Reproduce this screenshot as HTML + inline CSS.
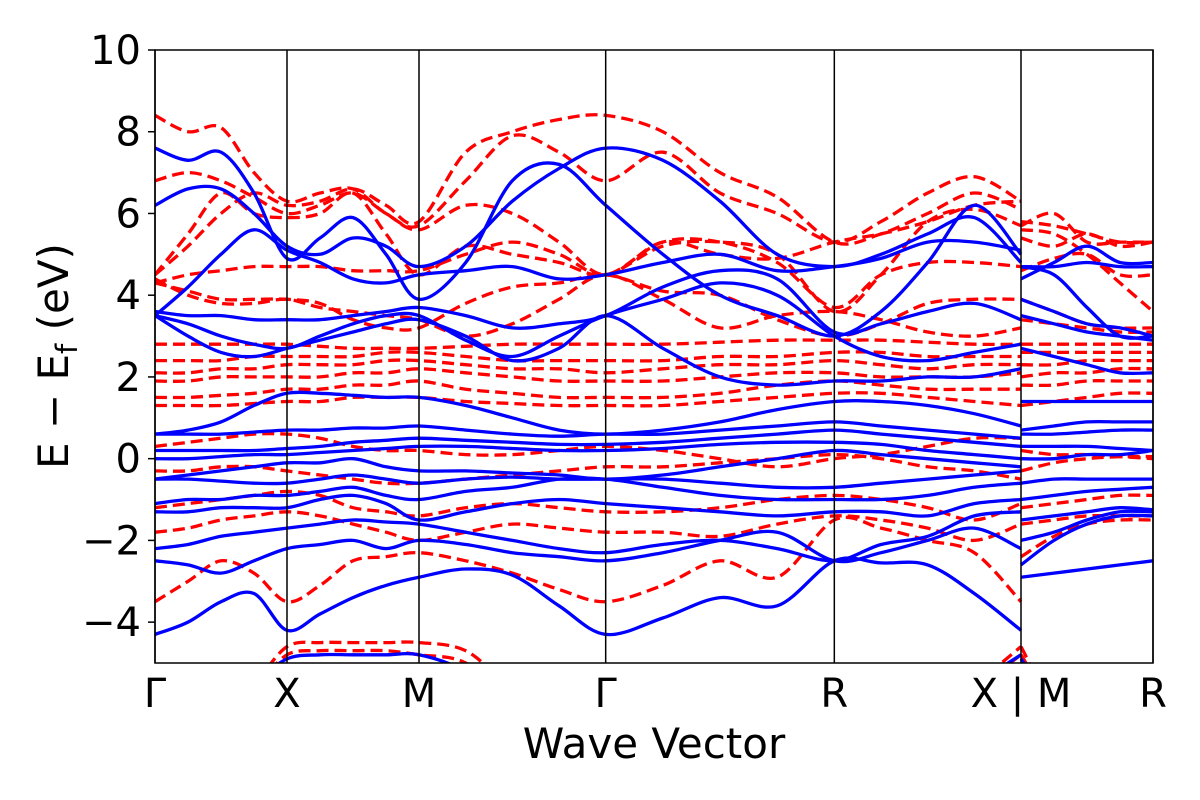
<!DOCTYPE html>
<html><head><meta charset="utf-8"><style>
html,body{margin:0;padding:0;background:#fff;width:1200px;height:800px;overflow:hidden}
svg text{font-family:"DejaVu Sans","Liberation Sans",sans-serif;fill:#000}
</style></head><body>
<svg id="chart" width="1200" height="800" viewBox="0 0 1200 800" xmlns="http://www.w3.org/2000/svg">
<defs><clipPath id="clip"><rect x="155" y="50" width="998" height="613"/></clipPath></defs>
<g id="bands" clip-path="url(#clip)"></g>
<g id="axes"></g>
</svg>
<script>
const segLabels = ["Γ","X","M","Γ","R","X"];
const segLengths = [0.5,0.5,0.7071,0.8660,0.7071];
const mrLength = 0.5;
const yTicks = [10,8,6,4,2,0,-2,-4];
const xTickLabels = ["Γ","X","M","Γ","R","X | M","R"];
const blueMain = [
[-4.3,-4.0,-3.5,-3.3,-4.2,-3.8,-3.4,-3.1,-2.9,-2.7,-2.85,-3.6,-4.3,-3.9,-3.4,-3.6,-2.5,-2.55,-2.6,-3.3,-4.2],
[-2.5,-2.6,-2.8,-2.5,-2.2,-2.1,-2.0,-2.2,-2.0,-2.1,-2.3,-2.4,-2.5,-2.3,-2.0,-1.8,-2.5,-2.3,-2.0,-1.7,-2.2],
[-2.2,-2.1,-1.9,-1.8,-1.7,-1.6,-1.5,-1.55,-1.6,-1.8,-2.0,-2.2,-2.3,-2.1,-2.0,-2.2,-2.5,-2.1,-1.9,-1.4,-1.3],
[-1.3,-1.3,-1.2,-1.2,-1.2,-1.0,-0.9,-1.1,-1.5,-1.3,-1.1,-1.0,-1.1,-1.2,-1.3,-1.4,-1.3,-1.3,-1.4,-1.1,-1.0],
[-1.1,-1.0,-1.0,-0.9,-0.9,-0.8,-0.7,-0.9,-1.0,-0.8,-0.7,-0.5,-0.5,-0.7,-0.9,-1.0,-1.0,-1.0,-0.9,-0.7,-0.6],
[-0.5,-0.5,-0.55,-0.6,-0.6,-0.5,-0.4,-0.5,-0.6,-0.5,-0.45,-0.5,-0.5,-0.5,-0.6,-0.7,-0.7,-0.6,-0.5,-0.4,-0.3],
[-0.5,-0.4,-0.3,-0.2,-0.1,-0.1,0.0,-0.2,-0.3,-0.3,-0.35,-0.4,-0.5,-0.4,-0.2,0.0,0.2,0.1,0.0,-0.1,-0.2],
[0.0,0.0,0.05,0.1,0.1,0.15,0.2,0.25,0.3,0.3,0.25,0.2,0.2,0.25,0.35,0.4,0.4,0.35,0.2,0.1,0.0],
[0.2,0.2,0.2,0.2,0.25,0.3,0.4,0.45,0.5,0.45,0.4,0.35,0.35,0.4,0.5,0.6,0.7,0.6,0.5,0.4,0.3],
[0.6,0.6,0.6,0.65,0.7,0.7,0.75,0.75,0.8,0.7,0.6,0.55,0.6,0.6,0.7,0.8,0.9,0.8,0.7,0.6,0.5],
[0.6,0.7,0.9,1.3,1.6,1.6,1.55,1.5,1.5,1.3,1.0,0.7,0.6,0.7,0.9,1.2,1.4,1.4,1.3,1.1,0.8],
[3.5,3.0,2.6,2.5,2.7,2.9,3.1,3.3,3.4,3.0,2.4,2.7,3.5,2.7,2.0,1.8,1.9,1.9,2.0,2.0,2.2],
[3.5,3.3,3.0,2.8,2.7,3.0,3.3,3.5,3.5,2.9,2.5,3.0,3.5,3.9,4.3,4.0,3.0,2.5,2.4,2.6,2.8],
[3.6,3.5,3.5,3.4,3.4,3.4,3.5,3.6,3.7,3.5,3.2,3.3,3.5,4.2,4.6,4.4,3.1,3.3,3.6,3.8,3.4],
[3.5,4.2,5.0,5.6,5.1,4.8,4.4,4.3,4.5,4.6,4.7,4.4,4.5,4.8,5.0,4.6,4.7,4.9,5.3,5.3,5.1],
[6.2,6.6,6.6,6.0,5.2,5.0,5.4,5.2,4.7,5.2,6.3,7.1,7.6,7.3,6.3,5.0,4.7,5.0,5.5,5.9,4.8],
[7.6,7.3,7.5,6.5,4.9,5.4,5.9,5.0,3.9,4.8,6.8,7.2,6.2,5.0,4.0,3.5,3.0,3.6,4.8,6.2,5.0],
[-6,-6,-6,-5.5,-4.9,-4.8,-4.8,-4.8,-4.8,-5.2,-6,-6,-6,-6,-6,-6,-6,-6,-6,-5.5,-4.8]
];
const blueMR = [
[-2.9,-2.8,-2.7,-2.6,-2.5],[-2.0,-1.8,-1.5,-1.3,-1.3],[-2.6,-2.0,-1.6,-1.4,-1.4],[-1.5,-1.4,-1.3,-1.2,-1.25],
[-1.0,-0.9,-0.8,-0.75,-0.7],[-0.6,-0.5,-0.5,-0.5,-0.5],[0.0,0.0,0.1,0.1,0.2],[0.3,0.3,0.3,0.25,0.2],
[0.6,0.6,0.65,0.7,0.7],[0.7,0.8,0.9,0.9,0.9],[1.4,1.4,1.4,1.4,1.4],[2.7,2.5,2.3,2.1,2.1],
[3.5,3.3,3.1,3.0,2.9],[3.9,3.6,3.3,3.2,3.0],[4.7,4.7,4.8,4.7,4.7],[4.4,4.8,5.2,4.8,4.8],
[4.7,4.5,3.7,3.0,3.0],[-4.9,-6,-6,-6,-6]
];
const redMain = [
[-3.5,-3.0,-2.5,-2.8,-3.5,-3.1,-2.5,-2.4,-2.3,-2.5,-2.8,-3.2,-3.5,-3.1,-2.5,-2.9,-1.5,-1.7,-2.0,-2.3,-3.5],
[-1.8,-1.7,-1.5,-1.4,-1.3,-1.4,-1.6,-1.8,-2.0,-1.8,-1.6,-1.7,-1.8,-1.8,-1.9,-1.6,-1.4,-1.5,-1.7,-2.0,-1.6],
[-1.2,-1.1,-1.0,-0.9,-0.8,-0.9,-1.2,-1.3,-1.4,-1.2,-1.1,-1.2,-1.3,-1.3,-1.2,-1.0,-0.9,-1.0,-1.2,-1.5,-1.1],
[-0.3,-0.3,-0.2,-0.2,-0.3,-0.4,-0.5,-0.6,-0.6,-0.5,-0.4,-0.3,-0.2,-0.2,-0.1,0.0,0.1,0.0,-0.2,-0.3,-0.5],
[0.3,0.4,0.5,0.6,0.6,0.5,0.3,0.2,0.2,0.1,0.1,0.2,0.3,0.2,0.0,-0.2,0.0,0.1,0.3,0.5,0.5],
[1.3,1.3,1.3,1.35,1.4,1.4,1.5,1.5,1.5,1.4,1.35,1.3,1.3,1.3,1.4,1.5,1.6,1.6,1.5,1.4,1.3],
[1.5,1.5,1.55,1.6,1.7,1.7,1.8,1.8,1.9,1.7,1.6,1.5,1.5,1.5,1.6,1.8,1.9,1.8,1.7,1.7,1.7],
[1.9,1.9,2.0,2.0,2.0,2.0,2.1,2.1,2.2,2.1,2.0,1.9,1.9,1.9,2.0,2.1,2.1,2.0,2.0,2.0,2.1],
[2.1,2.1,2.2,2.2,2.3,2.3,2.3,2.4,2.4,2.3,2.2,2.2,2.1,2.2,2.3,2.3,2.4,2.3,2.2,2.3,2.3],
[2.4,2.4,2.4,2.5,2.5,2.5,2.5,2.6,2.6,2.5,2.4,2.4,2.4,2.4,2.5,2.5,2.6,2.6,2.5,2.5,2.5],
[2.8,2.8,2.8,2.8,2.8,2.75,2.7,2.7,2.7,2.75,2.8,2.8,2.8,2.8,2.85,2.9,2.9,2.9,2.85,2.8,2.8],
[4.4,4.0,3.8,3.8,3.9,3.7,3.6,3.5,3.4,3.0,3.3,3.9,4.5,3.9,3.2,3.5,3.6,3.4,3.1,3.0,3.2],
[4.3,4.1,3.9,3.9,3.9,3.8,3.4,3.2,3.2,3.8,4.2,4.3,4.5,4.1,4.0,3.4,3.0,3.3,3.8,3.9,3.9],
[4.5,5.5,6.5,6.0,5.9,6.0,6.5,5.5,4.5,5.2,5.0,4.8,4.5,5.2,5.3,5.0,3.6,4.5,5.8,6.1,5.7],
[6.8,7.0,6.8,6.4,6.0,6.2,6.5,6.0,5.6,6.2,6.0,5.3,4.5,5.3,5.0,4.9,5.3,5.5,5.8,6.2,6.3],
[8.4,8.0,8.1,7.0,6.3,6.5,6.6,6.0,5.7,6.8,7.9,7.5,6.8,7.5,6.5,6.0,5.3,5.8,6.5,6.9,6.3],
[4.5,5.2,6.0,6.5,6.2,6.3,6.6,6.2,5.8,7.5,8.0,8.3,8.4,8.0,7.0,6.4,5.3,5.5,6.0,6.5,6.1],
[4.3,4.5,4.6,4.7,4.7,4.7,4.6,4.6,4.6,5.0,5.3,5.0,4.5,5.3,5.3,4.8,3.7,4.5,4.8,4.8,4.7],
[-6,-6,-6,-5.5,-4.6,-4.5,-4.5,-4.5,-4.5,-4.7,-5.6,-6,-6,-6,-6,-6,-6,-6,-6,-5.5,-4.6],
[-6,-6,-6,-5.6,-4.8,-4.7,-4.7,-4.7,-4.8,-5.0,-6,-6,-6,-6,-6,-6,-6,-6,-6,-5.6,-4.8]
];
const redMR = [
[-2.4,-1.9,-1.6,-1.5,-1.5],[-1.6,-1.5,-1.4,-1.4,-1.4],[-1.2,-1.1,-1.0,-0.9,-0.9],[-0.3,-0.1,0.0,0.05,0.05],
[0.2,0.1,0.1,0.05,0.0],[1.3,1.4,1.5,1.6,1.6],[1.8,1.8,1.9,1.9,1.9],[2.0,2.1,2.1,2.2,2.2],
[2.3,2.3,2.4,2.4,2.4],[2.6,2.6,2.6,2.6,2.6],[2.8,2.8,2.8,2.8,2.8],[3.4,3.3,3.2,3.1,3.1],
[3.9,3.6,3.3,3.2,3.2],[5.6,5.5,5.0,4.3,3.6],[5.8,5.7,5.5,5.3,5.3],[5.7,6.0,5.3,5.3,5.3],
[5.4,5.2,5.5,5.2,5.3],[4.6,4.9,5.0,4.5,4.5],[-4.6,-6,-6,-6,-6],[-4.8,-6,-6,-6,-6]
];

const NS="http://www.w3.org/2000/svg";
const X0=155,X1=1153,Y0=663,Y1=50,EMIN=-5,EMAX=10;
const kNodes=[0];segLengths.forEach(l=>kNodes.push(kNodes[kNodes.length-1]+l));
const kTotal=kNodes[kNodes.length-1]+mrLength;
const xs=k=>X0+(k/kTotal)*(X1-X0);
const ys=e=>Y0-(e-EMIN)/(EMAX-EMIN)*(Y0-Y1);
const kMain=[];
for(let s=0;s<segLengths.length;s++){for(let j=0;j<4;j++)kMain.push(kNodes[s]+segLengths[s]*j/4);}
kMain.push(kNodes[kNodes.length-1]);
const kMR=[0,1,2,3,4].map(j=>kNodes[kNodes.length-1]+mrLength*j/4);

function smooth(pts){
  let d=`M${pts[0][0].toFixed(1)},${pts[0][1].toFixed(1)}`;
  for(let i=0;i<pts.length-1;i++){
    const p0=pts[Math.max(0,i-1)],p1=pts[i],p2=pts[i+1],p3=pts[Math.min(pts.length-1,i+2)];
    const c1=[p1[0]+(p2[0]-p0[0])/6,p1[1]+(p2[1]-p0[1])/6];
    const c2=[p2[0]-(p3[0]-p1[0])/6,p2[1]-(p3[1]-p1[1])/6];
    d+=`C${c1[0].toFixed(1)},${c1[1].toFixed(1)} ${c2[0].toFixed(1)},${c2[1].toFixed(1)} ${p2[0].toFixed(1)},${p2[1].toFixed(1)}`;
  }
  return d;
}
const bands=document.getElementById('bands');
function drawSet(set,kArr,color,dash,name){
  set.forEach((band,i)=>{
    const p=document.createElementNS(NS,'path');
    p.setAttribute('d',smooth(band.map((e,j)=>[xs(kArr[j]),ys(e)])));
    p.setAttribute('fill','none');p.setAttribute('stroke',color);p.setAttribute('stroke-width','3.3');
    if(dash)p.setAttribute('stroke-dasharray','12,6');
    
    
    bands.appendChild(p);
  });
}
drawSet(redMain,kMain,'#ff0000',true,'spin-down-band');
drawSet(redMR,kMR,'#ff0000',true,'spin-down-band-mr');
drawSet(blueMain,kMain,'#0000ff',false,'spin-up-band');
drawSet(blueMR,kMR,'#0000ff',false,'spin-up-band-mr');

const axes=document.getElementById('axes');
const vk=kNodes.concat([kTotal]);
vk.forEach((k,i)=>{
  const l=document.createElementNS(NS,'line');
  l.setAttribute('x1',xs(k));l.setAttribute('x2',xs(k));l.setAttribute('y1',Y1);l.setAttribute('y2',Y0);
  l.setAttribute('stroke','#000');l.setAttribute('stroke-width','1.5');
  
  
  axes.appendChild(l);
  const t=document.createElementNS(NS,'text');
  t.setAttribute('x',xs(k));t.setAttribute('y',707);t.setAttribute('text-anchor','middle');t.setAttribute('font-size','40');
  t.textContent=xTickLabels[i];
  
  
  axes.appendChild(t);
});
const frame=document.createElementNS(NS,'rect');
frame.setAttribute('x',X0);frame.setAttribute('y',Y1);frame.setAttribute('width',X1-X0);frame.setAttribute('height',Y0-Y1);
frame.setAttribute('fill','none');frame.setAttribute('stroke','#000');frame.setAttribute('stroke-width','1.5');


axes.appendChild(frame);
yTicks.forEach(v=>{
  const tk=document.createElementNS(NS,'line');
  tk.setAttribute('x1',X0-7);tk.setAttribute('x2',X0);tk.setAttribute('y1',ys(v));tk.setAttribute('y2',ys(v));
  tk.setAttribute('stroke','#000');tk.setAttribute('stroke-width','1.5');
  
  
  axes.appendChild(tk);
  const t=document.createElementNS(NS,'text');
  t.setAttribute('x',X0-14);t.setAttribute('y',ys(v)+14);t.setAttribute('text-anchor','end');t.setAttribute('font-size','40');
  t.textContent=(v<0?'\u2212'+Math.abs(v):String(v));
  
  
  axes.appendChild(t);
});
</script>
<svg style="position:absolute;left:0;top:0" width="1200" height="800">
<text x="654" y="758" text-anchor="middle" font-size="42">Wave Vector</text>
<text transform="translate(68,356) rotate(-90)" text-anchor="middle" font-size="42">E − E<tspan font-size="29" dy="9">f</tspan><tspan dy="-9"> (eV)</tspan></text>
</svg>
</body></html>
